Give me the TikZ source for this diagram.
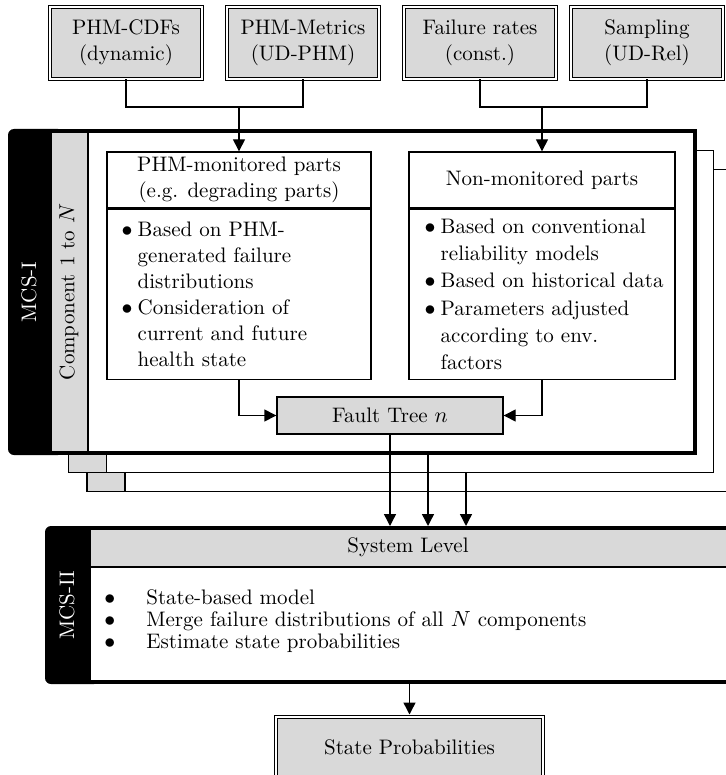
\documentclass[tikz,border=0pt]{standalone}
\usepackage{fontspec}
\usetikzlibrary{arrows.meta}
\definecolor{panelgray}{HTML}{D9D9D9}
% bullet markers with a fixed hanging indent
\newcommand\itmark{\makebox[8pt][l]{$\bullet$}}
\newcommand\itgap{\hspace*{8pt}}
\newcommand\sysmark{\makebox[21pt][l]{$\bullet$}}
\begin{document}
\begin{tikzpicture}[x=0.5pt,y=-0.5pt,
  font=\fontsize{10.5}{13}\selectfont,
  wire/.style={line width=0.7pt},
  tip/.style={wire,-{Triangle[length=6pt,width=6pt]}},
  source/.style={draw, double, double distance=1.1pt, line width=0.5pt,
    fill=panelgray, minimum width=76pt, minimum height=36pt,
    inner sep=0pt, align=center},
  headbox/.style={draw, wire, fill=white, minimum width=132pt,
    minimum height=28pt, inner sep=0pt, align=center},
  bodybox/.style={draw, wire, fill=white, minimum width=132pt,
    minimum height=85pt, inner sep=0pt, anchor=north},
  bodytext/.style={anchor=west, align=left, inner sep=0pt},
  frame/.style={line width=2pt, fill=white}
]
\useasboundingbox (0,0) rectangle (726,775);
\clip (0,0) rectangle (726,775);

% ---- input sources ----
\node[source] (b1) at (126,43) {PHM-CDFs\\(dynamic)};
\node[source] (b2) at (303,43) {PHM-Metrics\\(UD-PHM)};
\node[source] (b3) at (480,43) {Failure rates\\(const.)};
\node[source] (b4) at (647,43) {Sampling\\(UD-Rel)};

% ---- stacked component frames (N, ..., 2) ----
\foreach \dx/\dy in {37/38.5, 18.5/19.5}{
  \draw[wire, fill=white] (50+\dx,131+\dy) rectangle (695+\dx,453+\dy);
  \draw[wire, fill=panelgray] (50+\dx,131+\dy) rectangle (88+\dx,453+\dy);
}

% ---- MCS-I: component 1 ----
\fill[rounded corners=3pt] (8,129) rectangle (64,455);
\draw[frame] (50,131) rectangle (695,453);
\fill[panelgray] (52,133) rectangle (88,451);
\draw[wire] (88,133) -- (88,451);
\node[rotate=90, text=white] (mcs1) at (29,292) {MCS-I};
\node[rotate=90] (comp) at (69,292) {Component 1 to $N$};

\node[headbox] (pmh) at (239,180) {PHM-monitored parts\\(e.g. degrading parts)};
\node[bodybox] (pmb) at (pmh.south) {};
\node[bodytext] (pmt) at ([xshift=7.5pt]pmb.west) {\itmark Based on PHM-\\
  \itgap generated failure\\
  \itgap distributions\\
  \itmark Consideration of\\
  \itgap current and future\\
  \itgap health state};

\node[headbox, minimum width=133pt] (nmh) at (542,180) {Non-monitored parts};
\node[bodybox, minimum width=133pt] (nmb) at (nmh.south) {};
\node[bodytext, font=\fontsize{10.5}{13.6}\selectfont] (nmt)
  at ([xshift=8pt]nmb.west) {\itmark Based on conventional\\
  \itgap reliability models\\
  \itmark Based on historical data\\
  \itmark Parameters adjusted\\
  \itgap according to env.\\
  \itgap factors};

\node[draw, wire, fill=panelgray, minimum width=113pt, minimum height=18.5pt,
  inner sep=0pt] (ft) at (390,415.5) {Fault Tree $n$};

% ---- source connectors ----
\coordinate (jl) at (239,107);
\coordinate (jr) at (542,107);
\draw[wire] (b1.south) |- (jl) -| (b2.south);
\draw[wire] (b3.south) |- (jr) -| (b4.south);
\draw[tip] (jl) -- (pmh.north);
\draw[tip] (jr) -- (nmh.north);

\draw[tip] (pmb.south) |- (ft.west);
\draw[tip] (nmb.south) |- (ft.east);

% ---- MCS-II: system level ----
\fill[rounded corners=3pt] (45,526) rectangle (100,684);
\draw[frame] (89,528) rectangle (800,682);
\fill[panelgray] (91,530) rectangle (798,567);
\draw[wire] (91,567) -- (798,567);
\node[rotate=90, text=white] (mcs2) at (67,605) {MCS-II};
\node (sysl) at (408,547) {System Level};
\node[align=left, anchor=west, inner sep=0pt, font=\fontsize{10.5}{11}\selectfont]
  (sysb) at (104,621) {\sysmark State-based model\\
  \sysmark Merge failure distributions of all $N$ components\\
  \sysmark Estimate state probabilities};

% ---- component outputs into system level ----
\coordinate (systop) at (408,526);
\coordinate (c2) at (428,455);
\coordinate (c3) at (466,473);
\draw[tip] (ft.south) -- (ft.south |- systop);
\draw[tip] (c2) -- (c2 |- systop);
\draw[tip] (c3) -- (c3 |- systop);

% ---- result ----
\node[source, minimum width=133.5pt, minimum height=30pt] (sp) at (409.5,747) {State Probabilities};
\coordinate (sysbot) at (409.5,684);
\draw[tip, shorten >=1pt] (sysbot) -- (sp.north);
\end{tikzpicture}
\end{document}
